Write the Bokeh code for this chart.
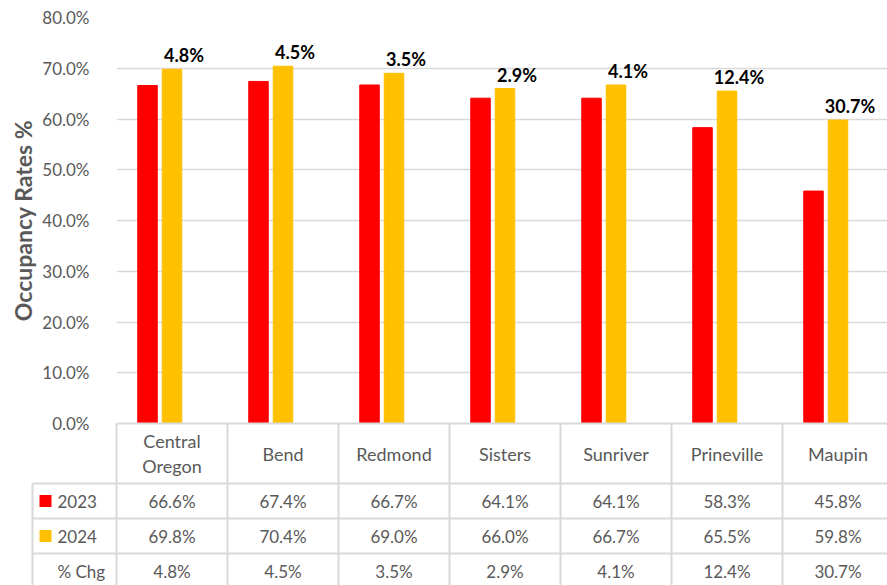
import textwrap
from bokeh.plotting import figure
from bokeh.models import Range1d, FixedTicker, PrintfTickFormatter, ColumnDataSource
from bokeh.transform import dodge
from bokeh.core.properties import value
from bokeh.embed import file_html
from bokeh.resources import INLINE

# ---------------- data ----------------
categories = ["Central Oregon", "Bend", "Redmond", "Sisters", "Sunriver", "Prineville", "Maupin"]
occ_2023 = [66.6, 67.4, 66.7, 64.1, 64.1, 58.3, 45.8]
occ_2024 = [69.8, 70.4, 69.0, 66.0, 66.7, 65.5, 59.8]
pct_chg = [4.8, 4.5, 3.5, 2.9, 4.1, 12.4, 30.7]
row_labels = ["2023", "2024", "% Chg"]
y_ticks = [0, 10, 20, 30, 40, 50, 60, 70, 80]
y_title = "Occupancy Rates %"

# ---------------- style / layout ----------------
RED = "#FF0000"
GOLD = "#FFC000"
GRAY = "#595959"
LINE = "#D9D9D9"
FONT = "Lato"
FS = "17px"
FS_HEAD = "18px"
W, H = 887, 585
UNIT = 111.0                 # px per category
FRAME_L = 116                # canvas x of plot-area left edge
FRAME_T, FRAME_B = 17, 423   # canvas y of plot-area top / bottom
PX_PER_PCT = (FRAME_B - FRAME_T) / 80.0


def ux(px):  # canvas x -> category units
    return (px - FRAME_L) / UNIT


def uy(py):  # canvas y -> percent units
    return (FRAME_B - py) / PX_PER_PCT


fmt = lambda v: f"{v:.1f}%"
n = len(categories)
src = ColumnDataSource(dict(
    xc=[i + 0.5 for i in range(n)],
    y23=occ_2023, y24=occ_2024,
    lbl=[fmt(v) for v in pct_chg],
))

p = figure(width=W, height=H,
           x_range=Range1d(0, (W - FRAME_L) / UNIT), y_range=Range1d(0, 80),
           toolbar_location=None, output_backend="svg",
           min_border_left=FRAME_L, min_border_right=0,
           min_border_top=FRAME_T, min_border_bottom=H - FRAME_B,
           outline_line_color=None, background_fill_color="white", border_fill_color="white")

# ---------------- bars ----------------
bw = 19.5 / UNIT
p.vbar(x=dodge("xc", -24.5 / UNIT, range=p.x_range), top="y23", width=bw,
       fill_color=RED, line_color=RED, source=src)
p.vbar(x="xc", top="y24", width=bw, fill_color=GOLD, line_color=GOLD, source=src)
p.text(x="xc", y="y24", text="lbl", x_offset=12, y_offset=-14,
       text_align="center", text_baseline="alphabetic",
       text_font=value(FONT), text_font_style="bold", text_font_size="18px",
       text_color="black", source=src, level="annotation")

# ---------------- axes ----------------
ya = p.yaxis[0]
ya.ticker = FixedTicker(ticks=y_ticks)
ya.formatter = PrintfTickFormatter(format="%.1f%%")
ya.axis_line_color = None
ya.major_tick_line_color = None
ya.minor_tick_line_color = None
ya.major_label_standoff = 21
ya.major_label_text_font = FONT
ya.major_label_text_font_size = FS
ya.major_label_text_color = GRAY
ya.axis_label = y_title
ya.axis_label_text_font = FONT
ya.axis_label_text_font_style = "bold"
ya.axis_label_text_font_size = "23px"
ya.axis_label_text_color = GRAY
ya.axis_label_standoff = 2

p.ygrid.ticker = FixedTicker(ticks=y_ticks)
p.ygrid.grid_line_color = LINE
p.ygrid.grid_line_width = 1.3
p.xgrid.visible = False
p.xaxis.visible = False

# ---------------- data table (below the plot area) ----------------
row_edges = [483, 518, 553, 588]
row_mid = [uy((row_edges[i] + row_edges[i + 1]) / 2) for i in range(3)]
header_mid = (FRAME_B + row_edges[0]) / 2
left = ux(32)
right = n

hx0 = [0] + [left] * 3
hx1 = [right] * 4
hy = [0] + [uy(v) for v in row_edges[:3]]
p.segment(x0=hx0, y0=hy, x1=hx1, y1=hy, line_color=LINE, line_width=2, level="annotation")
vx = [left] + list(range(n + 1))
vy0 = [uy(row_edges[0])] + [0] * (n + 1)
vy1 = [uy(row_edges[-1] + 10)] * (n + 2)
p.segment(x0=vx, y0=vy0, x1=vx, y1=vy1, line_color=LINE, line_width=2, level="annotation")

# header: category names (wrapped)
hx, hyy, ht = [], [], []
for i, name in enumerate(categories):
    lines = textwrap.wrap(name, 9, break_long_words=False)
    for k, ln in enumerate(lines):
        hx.append(i + 0.5)
        hyy.append(uy(header_mid + (k - (len(lines) - 1) / 2) * 25))
        ht.append(ln)
p.text(x=hx, y=hyy, text=ht, text_align="center", text_baseline="middle",
       text_font=value(FONT), text_font_size=FS_HEAD, text_color=GRAY, level="annotation")

# row labels with legend keys
p.rect(x=[ux(45)] * 2, y=row_mid[:2], width=12, height=12,
       width_units="screen", height_units="screen",
       fill_color=[RED, GOLD], line_color=None, level="annotation")
p.text(x=[left] * 3, y=row_mid, text=row_labels, x_offset=25,
       text_align="left", text_baseline="middle", text_font=value(FONT),
       text_font_size=FS, text_color=GRAY, level="annotation")

# cell values
for r, vals in enumerate([occ_2023, occ_2024, pct_chg]):
    p.text(x=src.data["xc"], y=[row_mid[r]] * n, text=[fmt(v) for v in vals],
           text_align="center", text_baseline="middle", text_font=value(FONT),
           text_font_size=FS, text_color=GRAY, level="annotation")

open("out.html", "w").write(file_html(p, INLINE))
